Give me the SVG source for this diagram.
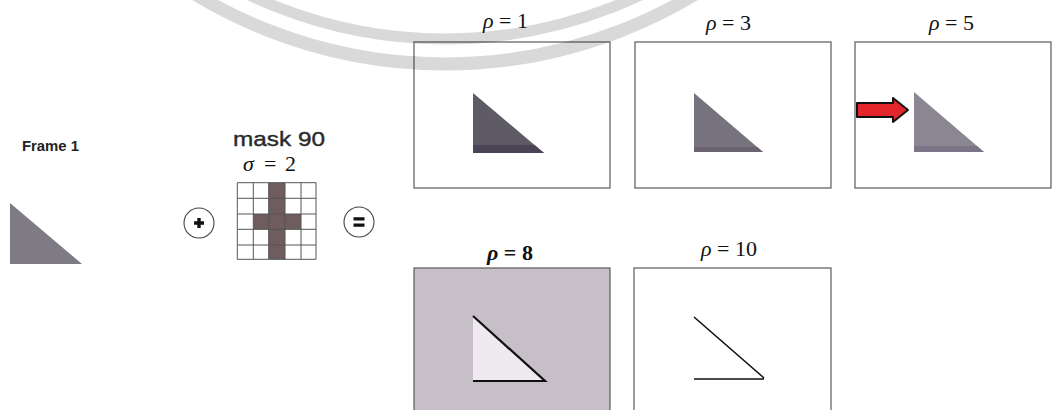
<svg xmlns="http://www.w3.org/2000/svg" width="1052" height="410" viewBox="0 0 1052 410">
<style>
.panel{fill:#fff;stroke:#5a5a5a;stroke-width:1.2}
.lbl{font-family:"Liberation Serif","Times New Roman",serif;font-size:22px;fill:#111}
.it{font-style:italic}
.grid{stroke:#555;stroke-width:1;fill:none}
.op{fill:#fff;stroke:#444;stroke-width:1.1}
.wm{fill:none;stroke:#000;stroke-opacity:0.15}
</style>
<rect width="1052" height="410" fill="#fff"/>

<g id="frame1">
<text x="22" y="151" font-family="Liberation Sans,Arial,sans-serif" font-size="14" font-weight="bold" fill="#222" textLength="57" lengthAdjust="spacingAndGlyphs">Frame 1</text>
<polygon points="10,203 10,264 82,264" fill="#7e7b85"/>
</g>

<g id="plus">
<circle class="op" cx="199" cy="223" r="15"/>
<path d="M194,223h10M199,218v10" stroke="#111" stroke-width="3.4"/>
</g>

<g id="mask">
<text x="233" y="146" font-family="Liberation Sans,Arial,sans-serif" font-size="21" fill="#2a2a2a" stroke="#2a2a2a" stroke-width="0.4" textLength="92" lengthAdjust="spacingAndGlyphs">mask 90</text>
<text class="lbl" x="243" y="171"><tspan class="it">σ</tspan></text>
<text class="lbl" x="264" y="171">=</text>
<text class="lbl" x="285" y="171">2</text>
<rect x="268.7" y="182.7" width="16.3" height="76.6" fill="#6e5c5e"/>
<rect x="253.3" y="214" width="47.7" height="15.3" fill="#6e5c5e"/>
<path class="grid" d="M237.3,182.7V259.3M253.3,182.7V259.3M268.7,182.7V259.3M285,182.7V259.3M301,182.7V259.3M316,182.7V259.3M237.3,182.7H316M237.3,198.3H316M237.3,214H316M237.3,229.3H316M237.3,245H316M237.3,259.3H316"/>
</g>

<g id="equals">
<circle class="op" cx="359" cy="222" r="15"/>
<path d="M353.5,218.8h11M353.5,225.2h11" stroke="#111" stroke-width="3.2"/>
</g>

<g id="rho1">
<text class="lbl" x="483" y="28"><tspan class="it">ρ</tspan> = 1</text>
<rect class="panel" x="414" y="42" width="196" height="146"/>
<polygon points="473,93 473,153 544,153" fill="#5e5b66"/>
<polygon points="473,145 534.5,145 544,153 473,153" fill="#4b4456"/>
</g>

<g id="rho3">
<text class="lbl" x="706" y="30"><tspan class="it">ρ</tspan> = 3</text>
<rect class="panel" x="635" y="42" width="196" height="146"/>
<polygon points="694,93 694,152 763,152" fill="#76737e"/>
<polygon points="694,147 757.2,147 763,152 694,152" fill="#6b6272"/>
</g>

<g id="rho5">
<text class="lbl" x="929" y="30"><tspan class="it">ρ</tspan> = 5</text>
<rect class="panel" x="855" y="42" width="196" height="146"/>
<polygon points="914,92 914,152 984,152" fill="#8a8692"/>
<polygon points="914,146 977,146 984,152 914,152" fill="#7d7386"/>
</g>

<g id="rho8">
<text class="lbl" x="487" y="260" font-weight="bold"><tspan class="it">ρ</tspan> = 8</text>
<rect class="panel" x="414" y="268" width="196" height="150" style="fill:#c7bfc8"/>
<polygon points="473,316 473,381 545,381" fill="#efe9f0"/>
<path d="M473,316L545,381H473" fill="none" stroke="#111" stroke-width="2.2"/>
</g>

<g id="rho10">
<text class="lbl" x="701" y="256"><tspan class="it">ρ</tspan> = 10</text>
<rect class="panel" x="634" y="268" width="197" height="150"/>
<path d="M694,317L764,378M694,379H764" fill="none" stroke="#111" stroke-width="1.6"/>
</g>

<g id="connectors">
<path d="M857,103H893V98L908,110L893,122V117H857Z" fill="#e3262b" stroke="#111" stroke-width="2" stroke-linejoin="round"/>
</g>

<g id="watermark">
<circle class="wm" cx="445" cy="-418" r="482" stroke-width="13"/>
<circle class="wm" cx="445" cy="-418" r="457" stroke-width="11"/>
</g>
</svg>
